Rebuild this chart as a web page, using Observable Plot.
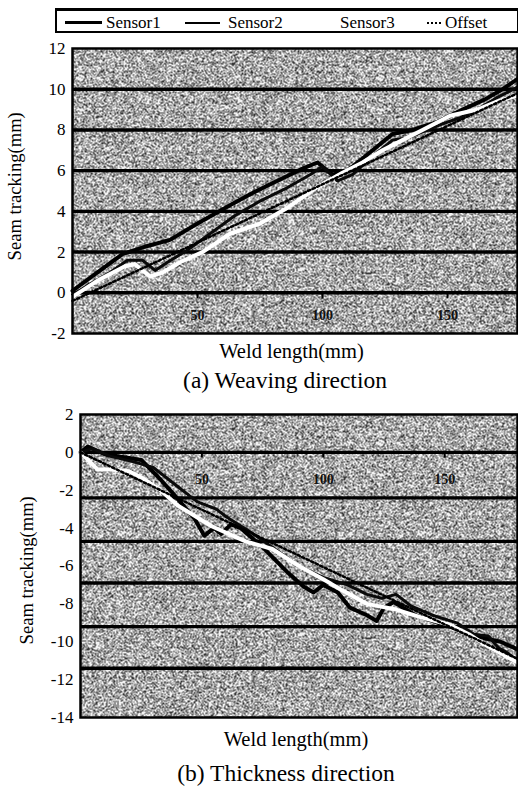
<!DOCTYPE html>
<html>
<head>
<meta charset="utf-8">
<script src="https://cdn.jsdelivr.net/npm/d3@7"></script>
<script src="https://cdn.jsdelivr.net/npm/@observablehq/plot@0.6"></script>
<style>
  html, body { margin: 0; padding: 0; background: #fff; }
  body { width: 518px; height: 787px; position: relative; overflow: hidden;
         font-family: "Liberation Serif", "Times New Roman", serif; color: #000; }
  .abs { position: absolute; white-space: nowrap; }
  #legendBox { position: absolute; left: 55px; top: 8px; width: 460px; height: 20px;
               border: 2px solid #000; border-top-width: 3px; }
  .lg-text { position: absolute; top: 13.5px; font-size: 17px; line-height: 17px; }
  .lg-line { position: absolute; height: 0; }
  .xlabel { font-size: 20.5px; line-height: 20.5px; text-align: center; width: 300px; }
  .caption { font-size: 23.5px; line-height: 23.5px; text-align: center; width: 300px; }
  .ylabel { font-size: 18.6px; line-height: 18.6px; height: 18.6px; transform-origin: center center;
            transform: rotate(-90deg); width: 200px; text-align: center; }
  .panel { position: absolute; left: 0; }
</style>
</head>
<body>
<svg width="0" height="0" style="position:absolute">
  <defs>
    <filter id="grain" x="0" y="0" width="100%" height="100%" color-interpolation-filters="sRGB">
      <feTurbulence type="fractalNoise" baseFrequency="0.9" numOctaves="2" seed="7"/>
      <feColorMatrix type="matrix" values="4 0 0 0 -1.4  4 0 0 0 -1.4  4 0 0 0 -1.4  0 0 0 0 1"/>
      <feComponentTransfer>
        <feFuncR type="discrete" tableValues="0.22 0.95"/>
        <feFuncG type="discrete" tableValues="0.22 0.95"/>
        <feFuncB type="discrete" tableValues="0.22 0.95"/>
      </feComponentTransfer>
    </filter>
    <pattern id="speckle" patternUnits="userSpaceOnUse" width="300" height="300">
      <rect width="300" height="300" fill="#999" filter="url(#grain)"/>
    </pattern>
  </defs>
</svg>

<div id="legendBox"></div>
<div class="lg-line" style="left:65px;top:21px;width:37px;border-top:3px solid #000"></div>
<div class="lg-text" style="left:106px">Sensor1</div>
<div class="lg-line" style="left:185px;top:21.5px;width:35px;border-top:2px solid #000"></div>
<div class="lg-text" style="left:228px">Sensor2</div>
<div class="lg-line" style="left:300px;top:21.5px;width:32px;border-top:2px solid #fff"></div>
<div class="lg-text" style="left:340px">Sensor3</div>
<div class="lg-line" style="left:427px;top:21.5px;width:14px;border-top:2px dotted #000"></div>
<div class="lg-text" style="left:445px">Offset</div>

<div id="panelA" class="panel" style="top:40px"></div>
<div class="abs ylabel" style="left:-85.5px;top:176.7px">Seam tracking(mm)</div>
<div class="abs xlabel" style="left:141.5px;top:340.7px">Weld length(mm)</div>
<div class="abs caption" style="left:135px;top:369px">(a) Weaving direction</div>

<div id="panelB" class="panel" style="top:405px"></div>
<div class="abs ylabel" style="left:-73px;top:560.7px">Seam tracking(mm)</div>
<div class="abs xlabel" style="left:146px;top:728.7px">Weld length(mm)</div>
<div class="abs caption" style="left:136px;top:762px">(b) Thickness direction</div>

<script>
// ---------- Panel (a): Weaving direction ----------
const yTicksA = [12, 10, 8, 6, 4, 2, 0, -2];
const gridA = [10, 8, 6, 4, 2, 0];
const xTicksA = [50, 100, 150];
const sensor1A = [[0,0.1],[10,1.0],[20,1.9],[30,2.3],[39,2.6],[50,3.4],[63,4.3],[72,4.9],[82,5.5],[92,6.1],[98,6.4],[104,5.8],[110,6.0],[116,6.6],[122,7.2],[128,7.8],[136,8.0],[146,8.4],[156,9.0],[165,9.5],[172,10.0],[178,10.5]];
const sensor2A = [[0,-0.1],[8,0.5],[15,1.0],[22,1.6],[28,1.6],[33,1.1],[38,1.5],[46,2.1],[55,2.9],[65,3.8],[75,4.5],[85,5.1],[95,5.8],[100,6.2],[106,5.5],[112,5.8],[120,6.7],[128,7.5],[134,7.6],[140,7.9],[148,8.3],[155,8.6],[162,9.0],[170,9.6],[178,10.1]];
const sensor3A = [[0,-0.2],[10,0.6],[21,1.3],[25,1.4],[31,0.8],[36,1.0],[43,1.5],[52,2.0],[63,2.9],[75,3.4],[85,4.1],[91,4.6],[98,5.2],[108,5.9],[116,6.4],[124,7.0],[132,7.5],[140,8.0],[151,8.7],[162,9.0],[170,9.4],[178,9.7]];
const offsetA = [[0,-0.4],[178,9.8]];

// ---------- Panel (b): Thickness direction ----------
const yTicksB = [2, 0, -2, -4, -6, -8, -10, -12, -14];
const gridB = [0, -2.4, -4.7, -6.9, -9.2, -11.4];
const xTicksB = [50, 100, 150];
const sensor1B = [[0,0],[3,0.3],[10,-0.1],[20,-0.3],[25,-0.4],[32,-1.3],[39,-2.3],[47,-3.5],[51,-4.4],[55,-4.0],[58,-4.3],[62,-3.8],[66,-4.0],[75,-5.0],[85,-6.3],[92,-7.1],[96,-7.4],[100,-7.0],[106,-7.4],[111,-8.2],[118,-8.6],[122,-8.9],[125,-8.2],[129,-7.9],[138,-8.6],[145,-8.9],[152,-9.2],[159,-9.5],[166,-9.8],[173,-10.0],[180,-10.4]];
const sensor2B = [[0,0],[5,0.2],[12,-0.2],[22,-0.5],[30,-0.8],[40,-1.8],[48,-2.6],[56,-3.0],[60,-3.4],[70,-4.2],[80,-5.1],[90,-6.0],[100,-6.6],[110,-7.0],[118,-7.5],[124,-7.7],[130,-7.5],[136,-8.1],[145,-8.6],[155,-9.0],[162,-9.6],[168,-9.7],[172,-10.3],[176,-10.6],[180,-11.0]];
const sensor3B = [[0,0],[7,-0.9],[13,-0.9],[20,-1.0],[26,-1.4],[33,-2.0],[40,-2.8],[54,-3.9],[68,-4.7],[79,-5.1],[90,-6.0],[100,-6.7],[108,-7.3],[118,-8.0],[130,-8.3],[140,-8.7],[152,-9.1],[160,-9.6],[166,-10.1],[173,-10.6],[180,-11.1]];
const offsetB = [[0,0],[180,-10.9]];

const seriesNames = ["Sensor1", "Sensor2", "Sensor3", "Offset"];
const serifFont = '"Liberation Serif", "Times New Roman", serif';

function tidy(arrs) {
  const out = [];
  arrs.forEach((arr, i) => arr.forEach(([x, y]) => out.push({series: seriesNames[i], x, y})));
  return out;
}

function panel({data, yDomain, xDomain, yTicks, grid, xTicks, tickLabelY, tickLen, height, marginTop, marginBottom, marginLeft}) {
  const rows = tidy(data);
  const sel = (s) => rows.filter(d => d.series === s);
  return Plot.plot({
    width: 518,
    height,
    marginTop, marginBottom, marginLeft, marginRight: 1,
    style: {fontFamily: serifFont, fontSize: "17px", background: "transparent", color: "#000", overflow: "visible"},
    x: {domain: xDomain, axis: null},
    y: {domain: yDomain, axis: null},
    marks: [
      Plot.frame({fill: "url(#speckle)", stroke: null}),
      Plot.ruleY(grid, {stroke: "#000", strokeWidth: 3.4}),
      Plot.ruleX(xTicks, {y1: 0, y2: tickLen, stroke: "#000", strokeWidth: 2}),
      Plot.text(xTicks, {x: d => d, y: tickLabelY, text: d => String(d), fontWeight: "bold", fontSize: 14, fontFamily: serifFont, fill: "#111"}),
      Plot.line(sel("Sensor1"), {x: "x", y: "y", stroke: "#000", strokeWidth: 4, strokeLinejoin: "round"}),
      Plot.line(sel("Sensor2"), {x: "x", y: "y", stroke: "#0a0a0a", strokeWidth: 3, strokeLinejoin: "round"}),
      Plot.line(sel("Sensor3"), {x: "x", y: "y", stroke: "#fff", strokeWidth: 4, strokeLinejoin: "round"}),
      Plot.line(sel("Offset"), {x: "x", y: "y", stroke: "#000", strokeWidth: 2.5, strokeDasharray: "2.5,2.5"}),
      Plot.frame({stroke: "#000", strokeWidth: 2.5}),
      Plot.axisY(yTicks, {tickSize: 0, tickPadding: 7, fontSize: 17, tickFormat: d => String(d), label: null})
    ]
  });
}

document.getElementById("panelA").appendChild(panel({
  data: [sensor1A, sensor2A, sensor3A, offsetA],
  yDomain: [-2, 12], xDomain: [0, 178],
  yTicks: yTicksA, grid: gridA, xTicks: xTicksA,
  tickLabelY: -1.1, tickLen: -0.3,
  height: 306, marginTop: 8, marginBottom: 13, marginLeft: 72
}));

document.getElementById("panelB").appendChild(panel({
  data: [sensor1B, sensor2B, sensor3B, offsetB],
  yDomain: [-14, 2], xDomain: [0, 180],
  yTicks: yTicksB, grid: gridB, xTicks: xTicksB,
  tickLabelY: -1.45, tickLen: -0.3,
  height: 324, marginTop: 9, marginBottom: 12, marginLeft: 80
}));
</script>
</body>
</html>
